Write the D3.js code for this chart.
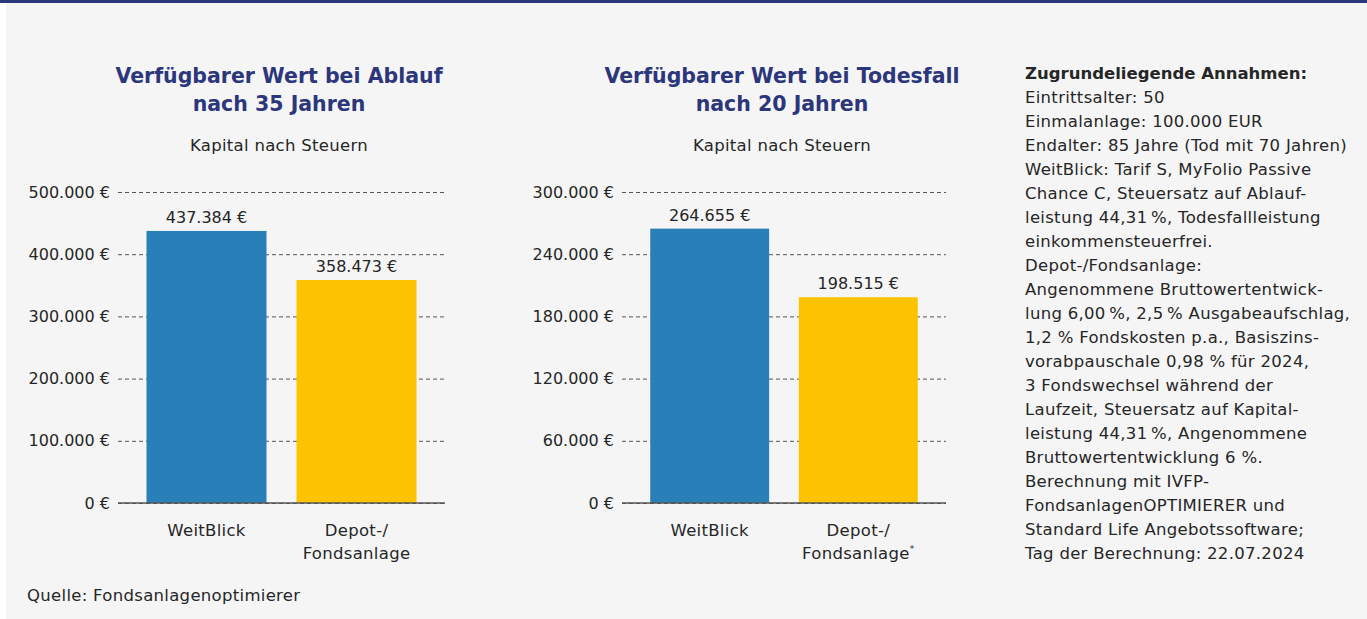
<!DOCTYPE html>
<html>
<head>
<meta charset="utf-8">
<script src="https://cdn.jsdelivr.net/npm/d3@7"></script>
<style>
  html, body { margin: 0; padding: 0; background: #fff; }
  svg { display: block; font-family: "DejaVu Sans", "Noto Sans", sans-serif; }
</style>
</head>
<body>
<div id="chart"></div>
<script>
// Chart data
const categories = ["WeitBlick", "Depot-/Fondsanlage"];
const categoryLines = [["WeitBlick"], ["Depot-/", "Fondsanlage"]];
const ablaufValues = [437384, 358473];
const todesfallValues = [264655, 198515];
const ablaufTicks = [0, 100000, 200000, 300000, 400000, 500000];
const todesfallTicks = [0, 60000, 120000, 180000, 240000, 300000];
const assumptionLines = [
  "Eintrittsalter: 50",
  "Einmalanlage: 100.000 EUR",
  "Endalter: 85 Jahre (Tod mit 70 Jahren)",
  "WeitBlick: Tarif S, MyFolio Passive",
  "Chance C, Steuersatz auf Ablauf-",
  "leistung 44,31\u2009%, Todesfallleistung",
  "einkommensteuerfrei.",
  "Depot-/Fondsanlage:",
  "Angenommene Bruttowertentwick-",
  "lung 6,00\u2009%, 2,5\u2009% Ausgabeaufschlag,",
  "1,2 % Fondskosten p.a., Basiszins-",
  "vorabpauschale 0,98 % für 2024,",
  "3 Fondswechsel während der",
  "Laufzeit, Steuersatz auf Kapital-",
  "leistung 44,31\u2009%, Angenommene",
  "Bruttowertentwicklung 6 %.",
  "Berechnung mit IVFP-",
  "FondsanlagenOPTIMIERER und",
  "Standard Life Angebotssoftware;",
  "Tag der Berechnung: 22.07.2024"
];

const W = 1367, H = 619;
const navy = "#2c367a";
const textColor = "#262626";
const barColors = ["#2980b9", "#fdc300"];
const fontSize = 16.5;
const spacing = 0.3;

const locale = d3.formatLocale({ decimal: ",", thousands: ".", grouping: [3], currency: ["", " €"] });
const fmt = locale.format(",.0f");

const svg = d3.select("#chart").append("svg")
  .attr("width", W)
  .attr("height", H);

// Background and top rule
svg.append("rect").attr("x", 6).attr("y", 0).attr("width", W - 6).attr("height", H).attr("fill", "#f5f5f5");
svg.append("rect").attr("x", 0).attr("y", 0).attr("width", W).attr("height", 3).attr("fill", navy);

function drawChart(opts) {
  const { left, right, top, bottom, values, ticks, titleLines, titleX, footnote } = opts;

  const x = d3.scaleBand().domain(categories).range([left, right])
    .paddingInner(0.2).paddingOuter(0.19);
  const y = d3.scaleLinear().domain([0, d3.max(ticks)]).range([bottom, top]);

  // Title
  const title = svg.append("text")
    .attr("x", titleX).attr("y", 83)
    .attr("text-anchor", "middle")
    .attr("fill", navy)
    .attr("font-size", 20.5)
    .attr("font-weight", "bold");
  titleLines.forEach((t, i) => {
    title.append("tspan").attr("x", titleX).attr("dy", i === 0 ? 0 : 28).text(t);
  });

  svg.append("text")
    .attr("x", titleX).attr("y", 151)
    .attr("text-anchor", "middle")
    .attr("fill", textColor)
    .attr("font-size", fontSize)
    .attr("letter-spacing", spacing)
    .text("Kapital nach Steuern");

  // Y axis with dashed grid lines
  const yAxis = svg.append("g")
    .attr("transform", `translate(${left},0)`)
    .call(d3.axisLeft(y).tickValues(ticks).tickSize(-(right - left)).tickPadding(8)
      .tickFormat((d) => fmt(d) + " €"));
  yAxis.select(".domain").remove();
  yAxis.selectAll(".tick line")
    .attr("stroke", "#555")
    .attr("stroke-width", 1)
    .attr("stroke-dasharray", "4,3");
  yAxis.selectAll(".tick text")
    .attr("fill", textColor)
    .attr("font-size", 16)
    .attr("font-family", "'DejaVu Sans', sans-serif");

  // Bars
  svg.selectAll(null)
    .data(values)
    .enter()
    .append("rect")
    .attr("x", (d, i) => x(categories[i]))
    .attr("y", (d) => y(d))
    .attr("width", x.bandwidth())
    .attr("height", (d) => y(0) - y(d))
    .attr("fill", (d, i) => barColors[i]);

  // Baseline
  svg.append("line")
    .attr("x1", left).attr("x2", right)
    .attr("y1", y(0)).attr("y2", y(0))
    .attr("stroke", "#555").attr("stroke-width", 1.5);

  // Value labels
  svg.selectAll(null)
    .data(values)
    .enter()
    .append("text")
    .attr("x", (d, i) => x(categories[i]) + x.bandwidth() / 2)
    .attr("y", (d) => y(d) - 8)
    .attr("text-anchor", "middle")
    .attr("fill", textColor)
    .attr("font-size", 16)
    .text((d) => fmt(d) + " €");

  // Category labels
  categoryLines.forEach((lines, i) => {
    const cx = x(categories[i]) + x.bandwidth() / 2;
    const t = svg.append("text")
      .attr("x", cx).attr("y", 536)
      .attr("text-anchor", "middle")
      .attr("fill", textColor)
      .attr("font-size", fontSize)
      .attr("letter-spacing", spacing);
    lines.forEach((line, j) => {
      t.append("tspan").attr("x", cx).attr("dy", j === 0 ? 0 : 23).text(line);
      if (footnote && i === 1 && j === lines.length - 1) {
        t.append("tspan").attr("dy", -7).attr("font-size", 9).text("*");
      }
    });
  });
}

drawChart({
  left: 118, right: 445, top: 192, bottom: 503,
  values: ablaufValues, ticks: ablaufTicks,
  titleLines: ["Verfügbarer Wert bei Ablauf", "nach 35 Jahren"],
  titleX: 279, footnote: false
});

drawChart({
  left: 622, right: 946, top: 192, bottom: 503,
  values: todesfallValues, ticks: todesfallTicks,
  titleLines: ["Verfügbarer Wert bei Todesfall", "nach 20 Jahren"],
  titleX: 782, footnote: true
});

// Source
svg.append("text")
  .attr("x", 27).attr("y", 601)
  .attr("fill", textColor)
  .attr("font-size", fontSize)
  .attr("letter-spacing", spacing)
  .text("Quelle: Fondsanlagenoptimierer");

// Assumptions block
const notes = svg.append("text")
  .attr("x", 1025).attr("y", 79)
  .attr("fill", textColor)
  .attr("font-size", fontSize)
  .attr("letter-spacing", spacing);
notes.append("tspan").attr("x", 1025).attr("font-weight", "bold").attr("letter-spacing", 0)
  .text("Zugrundeliegende Annahmen:");
assumptionLines.forEach((line) => {
  notes.append("tspan").attr("x", 1025).attr("dy", 24).text(line);
});
</script>
</body>
</html>
